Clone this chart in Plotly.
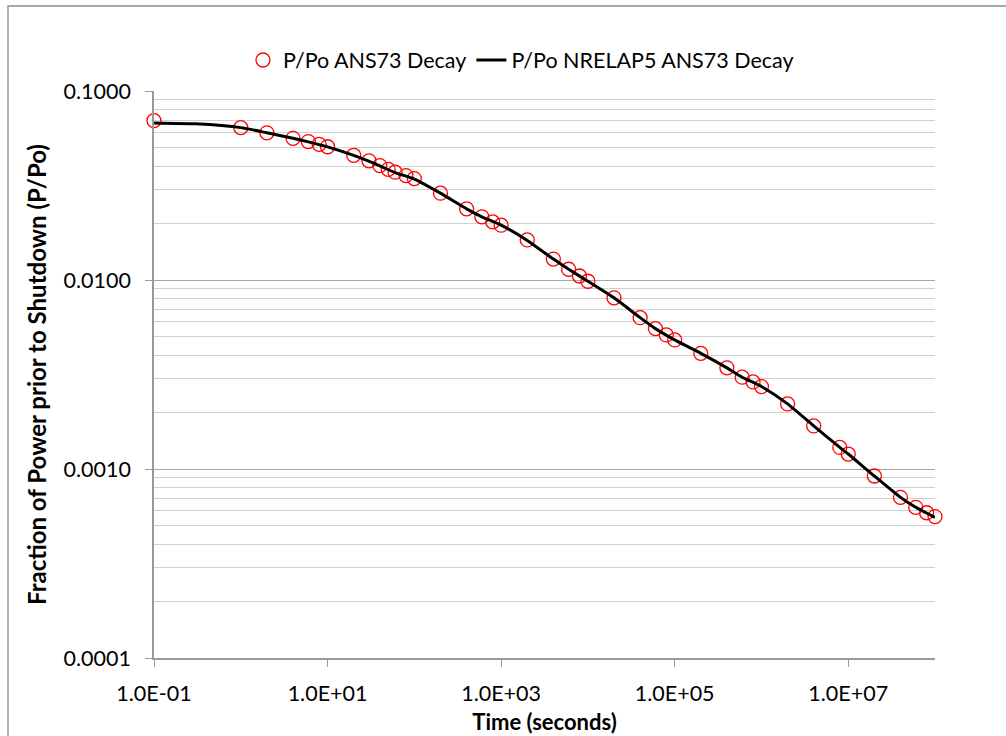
import plotly.graph_objects as go

# ANS73 decay data points (time in s, P/Po)
ans_time = [0.1, 1, 2, 4, 6, 8, 10, 20, 30, 40, 50, 60, 80, 100, 200, 400, 600, 800, 1000,
            2000, 4000, 6000, 8000, 1e4, 2e4, 4e4, 6e4, 8e4, 1e5, 2e5, 4e5, 6e5, 8e5, 1e6,
            2e6, 4e6, 8e6, 1e7, 2e7, 4e7, 6e7, 8e7, 1e8]
ans_pp = [0.0697, 0.0640, 0.0601, 0.0562, 0.0540, 0.0522, 0.0507, 0.0457, 0.0427, 0.0403,
          0.0385, 0.0372, 0.0357, 0.0344, 0.0288, 0.0238, 0.0216, 0.0203, 0.0195,
          0.0163, 0.0129, 0.0114, 0.0105, 0.00985, 0.00805, 0.00632, 0.00553, 0.00512, 0.00482,
          0.00409, 0.00343, 0.00306, 0.00289, 0.00273,
          0.00221, 0.00169, 0.00130, 0.00120, 0.000918, 0.000708, 0.000627, 0.000587, 0.000560]

# NRELAP5 ANS73 decay curve
rel_time = [0.1, 0.3, 1, 2, 4, 6, 10, 20, 40, 60, 100, 200, 400, 600, 1000, 2000, 4000,
            6000, 1e4, 2e4, 4e4, 6e4, 1e5, 2e5, 4e5, 6e5, 1e6, 2e6, 4e6, 8e6, 1e7, 2e7,
            4e7, 6e7, 8e7, 1e8]
rel_pp = [0.0678, 0.0670, 0.0640, 0.0601, 0.0562, 0.0538, 0.0506, 0.0456, 0.0402, 0.0370,
          0.0342, 0.0288, 0.0238, 0.0216, 0.0195, 0.0162, 0.0129, 0.0114, 0.00985, 0.00805,
          0.00632, 0.00553, 0.00482, 0.00409, 0.00343, 0.00306, 0.00273, 0.00221, 0.00169,
          0.00130, 0.00120, 0.000918, 0.000708, 0.000627, 0.000585, 0.000555]

x_tickvals = [0.1, 10, 1e3, 1e5, 1e7]
x_ticktext = ["1.0E-01", "1.0E+01", "1.0E+03", "1.0E+05", "1.0E+07"]
y_tickvals = [0.0001, 0.001, 0.01, 0.1]
y_ticktext = ["0.0001", "0.0010", "0.0100", "0.1000"]
y_minor = [m * 10.0 ** e for e in (-4, -3, -2) for m in range(2, 10)]

FONT = "Lato, Open Sans, sans-serif"

fig = go.Figure()
fig.add_trace(go.Scatter(
    x=ans_time, y=ans_pp, mode="markers", name="P/Po ANS73 Decay",
    marker=dict(symbol="circle-open", size=14, color="#ff0000", line=dict(width=1.3, color="#ff0000")),
    cliponaxis=False,
))
fig.add_trace(go.Scatter(
    x=rel_time, y=rel_pp, mode="lines", name="P/Po NRELAP5 ANS73 Decay",
    line=dict(color="#000000", width=3, shape="spline", smoothing=0.6),
))

L, R, T, B = 154, 935, 91, 658
W, H = 1006, 736
pw, ph = R - L, B - T


def px(x):
    return (x - L) / pw


def py(y):
    return (B - y) / ph


fig.add_shape(type="rect", xref="paper", yref="paper",
              x0=px(8), x1=px(1012), y0=py(742), y1=py(6),
              line=dict(color="#8c8c8c", width=1.3), layer="below")

fig.update_layout(
    width=W, height=H,
    margin=dict(l=L, r=W - R, t=T, b=H - B),
    paper_bgcolor="white", plot_bgcolor="white",
    font=dict(family=FONT, size=21, color="#000000"),
    showlegend=True,
    legend=dict(orientation="h", x=px(521), xanchor="center", y=py(60), yanchor="middle",
                font=dict(size=21.5), itemwidth=30, bgcolor="rgba(0,0,0,0)",
                traceorder="normal"),
    xaxis=dict(
        type="log", range=[-1, 8], automargin=False,
        tickvals=x_tickvals, ticktext=x_ticktext,
        showgrid=False, zeroline=False,
        showline=True, linecolor="#9a9a9a", linewidth=1.5,
        ticks="outside", ticklen=7, tickcolor="#9a9a9a", tickwidth=1.3,
        tickfont=dict(size=21.5), ticklabelstandoff=8,
        title=dict(text="<b>Time (seconds)</b>", font=dict(size=22), standoff=10),
    ),
    yaxis=dict(
        type="log", range=[-4, -1], automargin=False,
        tickvals=y_tickvals, ticktext=y_ticktext,
        showgrid=True, gridcolor="#a6a6a6", gridwidth=1.3,
        zeroline=False,
        showline=True, linecolor="#9a9a9a", linewidth=1.5,
        ticks="outside", ticklen=7, tickcolor="#9a9a9a", tickwidth=1.3,
        tickfont=dict(size=21.5), ticklabelstandoff=10,
        minor=dict(tickvals=y_minor, showgrid=True, gridcolor="#d0d0d0", gridwidth=1.3,
                   ticks=""),
        title=dict(text="<b>Fraction of Power prior to Shutdown (P/Po)</b>", font=dict(size=24),
                   standoff=10),
    ),
)

fig.write_html("out.html")
